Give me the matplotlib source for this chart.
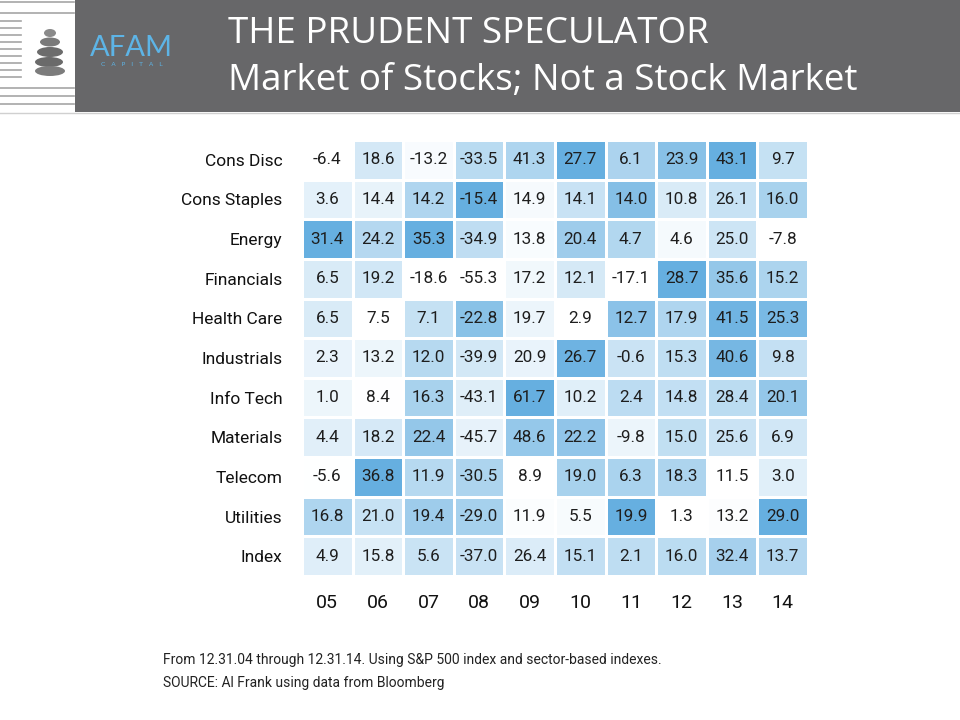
import numpy as np
import matplotlib.pyplot as plt
from matplotlib.colors import LinearSegmentedColormap
from matplotlib.patches import Rectangle, Ellipse

sectors = ["Cons Disc", "Cons Staples", "Energy", "Financials", "Health Care",
           "Industrials", "Info Tech", "Materials", "Telecom", "Utilities", "Index"]
years = ["05", "06", "07", "08", "09", "10", "11", "12", "13", "14"]

cons_disc = [-6.4, 18.6, -13.2, -33.5, 41.3, 27.7, 6.1, 23.9, 43.1, 9.7]
cons_staples = [3.6, 14.4, 14.2, -15.4, 14.9, 14.1, 14.0, 10.8, 26.1, 16.0]
energy = [31.4, 24.2, 35.3, -34.9, 13.8, 20.4, 4.7, 4.6, 25.0, -7.8]
financials = [6.5, 19.2, -18.6, -55.3, 17.2, 12.1, -17.1, 28.7, 35.6, 15.2]
health_care = [6.5, 7.5, 7.1, -22.8, 19.7, 2.9, 12.7, 17.9, 41.5, 25.3]
industrials = [2.3, 13.2, 12.0, -39.9, 20.9, 26.7, -0.6, 15.3, 40.6, 9.8]
info_tech = [1.0, 8.4, 16.3, -43.1, 61.7, 10.2, 2.4, 14.8, 28.4, 20.1]
materials = [4.4, 18.2, 22.4, -45.7, 48.6, 22.2, -9.8, 15.0, 25.6, 6.9]
telecom = [-5.6, 36.8, 11.9, -30.5, 8.9, 19.0, 6.3, 18.3, 11.5, 3.0]
utilities = [16.8, 21.0, 19.4, -29.0, 11.9, 5.5, 19.9, 1.3, 13.2, 29.0]
index = [4.9, 15.8, 5.6, -37.0, 26.4, 15.1, 2.1, 16.0, 32.4, 13.7]

values = np.array([cons_disc, cons_staples, energy, financials, health_care,
                   industrials, info_tech, materials, telecom, utilities, index])

W, H = 960, 720
fig = plt.figure(figsize=(9.6, 7.2), dpi=100)

# background / header drawn in pixel coordinates
bg = fig.add_axes([0, 0, 1, 1])
bg.set_xlim(0, W)
bg.set_ylim(H, 0)
bg.axis("off")
bg.add_patch(Rectangle((75, 0), W - 75, 112, color="#676769", lw=0))
for y in [2, 13, 88, 96, 104]:
    bg.plot([0, 74], [y, y], color="#a5a5a5", lw=1.2)
for y in range(21, 82, 7):
    bg.plot([0, 21], [y, y], color="#a5a5a5", lw=1.2)
bg.plot([0, W], [113, 113], color="#d0d0d0", lw=1)
# stones
for cx, cy, w, h, c in [(50, 33, 12, 8, "#8a8a8a"), (50, 42, 20, 9, "#7a7a7a"),
                        (50, 52, 26, 10, "#6c6c6c"), (49, 62, 28, 10, "#6a6a6a"),
                        (50, 71, 30, 10, "#7c7c7c")]:
    bg.add_patch(Ellipse((cx, cy), w, h, color=c, lw=0))
bg.text(131, 48, "AFAM", color="#5db4e6", fontsize=21, ha="center", va="center",
        family="Lato")
bg.text(132, 64, "C   A   P   I   T   A   L", color="#5db4e6", fontsize=4.5,
        ha="center", va="center")
bg.text(228, 34, "THE PRUDENT SPECULATOR", color="white", fontsize=26.5,
        ha="left", va="center", family="Open Sans")
bg.text(228, 81, "Market of Stocks; Not a Stock Market", color="white",
        fontsize=26.5, ha="left", va="center", family="Open Sans")
bg.text(163, 660, "From 12.31.04 through 12.31.14. Using S&P 500 index and sector-based indexes.",
        fontsize=10, color="#222222", va="center", family="Roboto")
bg.text(163, 683, "SOURCE: Al Frank using data from Bloomberg",
        fontsize=10, color="#222222", va="center", family="Roboto")

# colour by position within each year's range
lo = values.min(axis=0)
hi = values.max(axis=0)
shade = ((values - lo) / (hi - lo)) ** 1.3
cmap = LinearSegmentedColormap.from_list("blues", ["#ffffff", "#66afe0"])

ax = fig.add_axes([302 / W, (H - 576) / H, 506 / W, 436 / H])
ax.pcolormesh(shade, cmap=cmap, vmin=0, vmax=1, edgecolors="white", linewidth=1)
ax.set_xlim(0, len(years))
ax.set_ylim(len(sectors), 0)
for i in range(len(sectors)):
    for j in range(len(years)):
        ax.text(j + 0.5, i + 0.5, f"{values[i, j]:.1f}", ha="center", va="center",
                fontsize=12.3, color="#1e1e1e", family="Roboto")
ax.set_yticks(np.arange(len(sectors)) + 0.5)
ax.set_yticklabels(sectors, fontsize=12.5, color="#111111", family="Roboto")
ax.set_xticks(np.arange(len(years)) + 0.5)
ax.set_xticklabels(years, fontsize=14, color="#111111", family="Roboto")
ax.tick_params(length=0, pad=14)
ax.tick_params(axis="x", pad=13)
for s in ax.spines.values():
    s.set_visible(False)

fig.savefig("out.png", dpi=100)
